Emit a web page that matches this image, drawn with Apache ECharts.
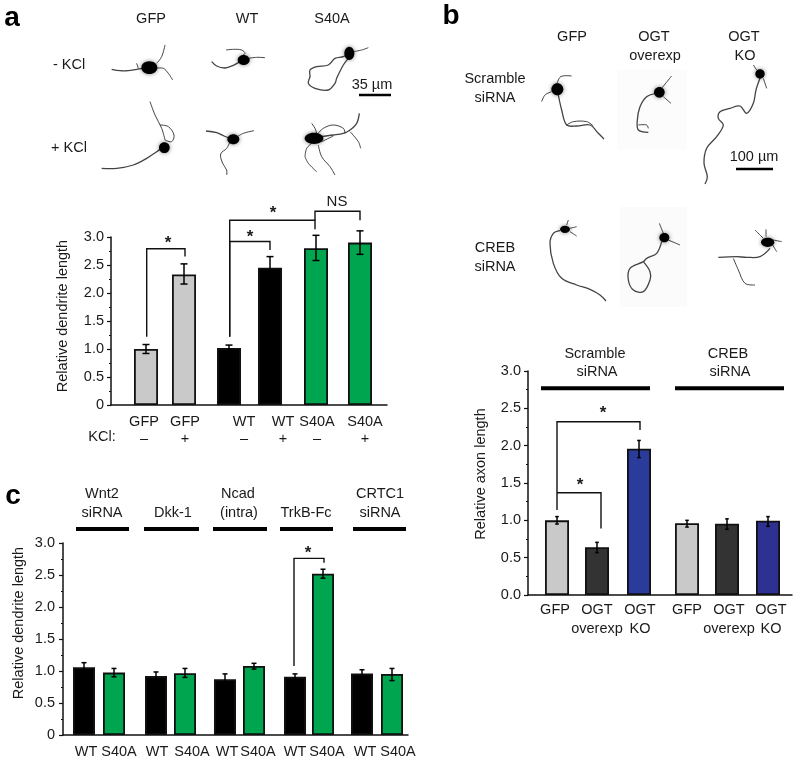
<!DOCTYPE html>
<html><head><meta charset="utf-8">
<style>html,body{margin:0;padding:0;background:#fff}#c{width:800px;height:760px}</style>
<script src="https://cdn.jsdelivr.net/npm/echarts@6/dist/echarts.min.js"></script>
</head><body><div id="c"></div>
<script>
// ---------- data ----------
const GRAY='#c9c9c9', BLACK='#000000', GREEN='#00a54f', DARK='#333333', BLUE='#2b3b9b', BLUE2='#2e3192';
// panel a
const aValues=[1.0,2.33,1.02,2.45,2.80,2.90];
const aLow=[0.92,2.16,0.98,2.25,2.58,2.69];
const aHigh=[1.08,2.52,1.07,2.65,3.03,3.11];
const aSlots=[35,73,118,159,205,249];
const aColors=[GRAY,GRAY,BLACK,BLACK,GREEN,GREEN];
const aTickPos=[33,74,133,172,206,254];
const aTickLabels=['GFP\n–','GFP\n+','WT\n–','WT\n+','S40A\n–','S40A\n+'];
const aBrackets=[[35.7,1.22,2.79,74,2.65],[118.7,1.22,2.92,159,2.77],[118.7,1.22,3.30,204,3.14],[204,3.30,3.46,249,3.30]];
const aNotes=[['*',57,2.88],['*',139,3.0],['*',162,3.43],['NS',226,3.63]];
// panel b
const bValues=[1.0,0.64,1.96,0.96,0.955,0.995];
const bLow=[0.95,0.567,1.84,0.91,0.88,0.92];
const bHigh=[1.05,0.705,2.07,1.0,1.02,1.05];
const bSlots=[29,69,111,159,199,240];
const bColors=[GRAY,DARK,BLUE,GRAY,DARK,BLUE2];
const bTickPos=[27,69,112,159,201,243];
const bTickLabels=['GFP','OGT\noverexp','OGT\nKO','GFP','OGT\noverexp','OGT\nKO'];
const bBrackets=[[29,1.14,2.32,112,2.21],[29,1.37,1.37,73,0.89]];
const bNotes=[['*',75,2.43],['*',52,1.47]];
const bHeaders=[[13,122,2.77],[147,256,2.77]];
// panel c
const cValues=[1.06,0.975,0.92,0.965,0.87,1.08,0.91,2.52,0.96,0.955];
const cLow=[1.0,0.91,0.85,0.90,0.80,1.03,0.86,2.45,0.91,0.85];
const cHigh=[1.13,1.04,0.985,1.04,0.955,1.12,0.955,2.59,1.02,1.04];
const cSlots=[21,51,93,122,162,191,232,260,299,329];
const cColors=[BLACK,GREEN,BLACK,GREEN,BLACK,GREEN,BLACK,GREEN,BLACK,GREEN];
const cTickPos=[23,56,94,129,164,195,232,264,302,335];
const cTickLabels=['WT','S40A','WT','S40A','WT','S40A','WT','S40A','WT','S40A'];
const cBrackets=[[231,1.08,2.76,261,2.69]];
const cNotes=[['*',245,2.84]];
const cHeaders=[[13,66,3.22],[81,136,3.22],[150,204,3.22],[217,270,3.22],[290,343,3.22]];

// ---------- text & micrographs ----------
const FONT='"Liberation Sans", Arial, sans-serif', INK='#1a1a1a';
const pageTexts=[
 ['GFP',151,19],['WT',247,19],['S40A',332,19],['- KCl',69,65],['+ KCl',69,148],['35 µm',372,85],
 ['KCl:',102,437],
 ['GFP',572,37],['OGT',654,37],['overexp',655,56],['OGT',744,37],['KO',745,56],
 ['Scramble',495,79],['siRNA',495,98],['CREB',495,248],['siRNA',495,267],['100 µm',754,157],
 ['Scramble',595,354],['siRNA',597,372],['CREB',728,354],['siRNA',730,372],
 ['Wnt2',102,494],['siRNA',102,513],['Dkk-1',173,513],['Ncad',238,494],['(intra)',239,513],
 ['TrkB-Fc',306,513],['CRTC1',380,494],['siRNA',380,513]];
const panelLetters=[['a',12,18],['b',451,16],['c',13,496]];
const scaleBars=[[359,391,95],[736,773,169]];
// neurons, traced on a 3x grid: soma [x,y,rx,ry], processes
const neuronsA=[
 {s:[448,203,24,19],p:[[335,208,360,212,385,212,410,208,430,205],[470,190,485,170,495,135],[468,205,490,205,505,220,518,240],[410,190,415,205]]},
 {s:[731,180,18,15],p:[[635,185,650,198,675,204,700,196,720,185],[722,170,735,160,725,150,700,148,678,150],[745,175,770,172,795,173]]},
 {s:[1048,160,15,20],p:[[1048,160,1030,170,1005,175,985,195,950,200,930,210,930,230,925,250,945,265,985,270,1005,250,1010,235,1030,195,1045,175],[1060,155,1085,150,1105,143]]},
 {s:[493,443,16,16],p:[[305,505,350,505,400,495,440,475,470,455,485,445],[450,305,465,345,485,385,495,420],[495,420,515,425,522,405,505,380,480,375]]},
 {s:[700,418,18,15],p:[[618,393,650,398,672,408,690,415],[690,425,680,445,662,462,668,490,680,510,680,525],[712,410,730,400,762,392]]},
 {s:[942,415,28,17],p:[[960,410,1000,405,1030,400,1050,390,1070,370,1078,340],[950,405,970,385,1000,375,1030,385,1035,400],[965,425,1000,408],[915,470,920,445,935,430],[915,470,925,490,950,515],[955,435,965,470,990,500,1005,525],[1050,395,1075,425,1082,445],[935,370,945,385,950,400]]}];
const neuronsB=[
 {s:[382,268,18,18],p:[[382,270,395,330,410,375,440,378,480,375,505,400,522,417],[410,375,430,365,470,365,490,378],[380,255,392,230,425,228],[365,275,345,285,335,305]]},
 {s:[688,277,16,16],p:[[680,280,650,290,630,320,622,360,625,390,655,397],[625,375,650,375,655,385],[695,265,715,240,725,228],[700,290,723,310]]},
 {s:[990,222,14,14],p:[[990,235,978,270,970,310,950,340,930,318,900,325,870,335,865,355,880,375,860,410,830,445,822,490,832,530,825,552],[1000,235,1010,265],[980,210,970,195]]},
 {s:[405,688,15,11],p:[[390,692,370,700,360,730,370,790,395,835,440,855,480,868,510,885,528,903],[410,675,415,660],[420,695,440,708],[420,685,440,680]]},
 {s:[703,713,15,14],p:[[695,725,680,760,650,775,640,785,600,805,595,840,610,870,640,875,660,840,660,815,640,785],[700,700,688,670],[715,720,750,735]]},
 {s:[1013,727,20,14],p:[[1020,745,990,770,950,772,920,770,865,772],[910,775,925,810,945,850,975,855],[1000,715,975,690],[1008,710,1008,688],[1030,720,1055,725],[1028,735,1040,755]]}];

function neuronGraphics(list,ox){
  const out=[];
  list.forEach(n=>{
    n.p.forEach((pts,k)=>{
      const points=[];for(let i=0;i<pts.length;i+=2)points.push([ox+pts[i]/3,pts[i+1]/3]);
      out.push({type:'polyline',silent:true,z:1,shape:{points,smooth:0.35},style:{stroke:'#222',lineWidth:k===0?1.3:1,fill:null,opacity:.85}});
    });
    out.push({type:'ellipse',silent:true,z:2,shape:{cx:ox+n.s[0]/3,cy:n.s[1]/3,rx:n.s[2]/3,ry:n.s[3]/3},style:{fill:'#000',shadowBlur:4,shadowColor:'rgba(0,0,0,.5)'}});
  });
  return out;
}
const graphics=[
 {type:'rect',silent:true,z:0,shape:{x:617,y:70,width:70,height:80},style:{fill:'#fcfcfc'}},
 {type:'rect',silent:true,z:0,shape:{x:620,y:207,width:67,height:100},style:{fill:'#fbfbfb'}},
 ...neuronGraphics(neuronsA,0),
 ...neuronGraphics(neuronsB,430),
 ...pageTexts.map(t=>({type:'text',silent:true,z:5,x:t[1],y:t[2],style:{text:t[0],font:'14.5px '+FONT,fill:INK,align:'center',verticalAlign:'middle'}})),
 ...panelLetters.map(t=>({type:'text',silent:true,z:5,x:t[1],y:t[2],style:{text:t[0],font:'bold 28px '+FONT,fill:'#000',align:'center',verticalAlign:'middle'}})),
 ...scaleBars.map(b=>({type:'line',silent:true,z:5,shape:{x1:b[0],y1:b[2],x2:b[1],y2:b[2]},style:{stroke:'#000',lineWidth:2.5}}))
];

// ---------- chart ----------
const grids=[
 {left:111,top:237,width:276,height:168},
 {left:528,top:371,width:264,height:224},
 {left:63,top:543,width:345,height:192}];
const yName=['Relative dendrite length','Relative axon length','Relative dendrite length'];
const yGap=[41,40,37];
const yNamePad=[10,18,32];
const yLabelMargin=[7,7,8];
const xLabelMargin=[8,5,8];
const zeroLabel=['0','0.0','0'];
const ticks=[aTickPos,bTickPos,cTickPos], tickLabels=[aTickLabels,bTickLabels,cTickLabels];
const xAxes=grids.map((g,i)=>({gridIndex:i,type:'value',min:0,max:g.width,splitLine:{show:false},
  axisLine:{onZero:false,lineStyle:{color:'#111',width:1.5}},axisTick:{show:false},
  axisLabel:{customValues:ticks[i],hideOverlap:false,color:INK,fontFamily:FONT,fontSize:14.5,lineHeight:i===1?19:17,margin:xLabelMargin[i],verticalAlign:'top',
    formatter:v=>tickLabels[i][ticks[i].indexOf(v)]}}));
const yAxes=grids.map((g,i)=>({gridIndex:i,type:'value',min:0,max:3,interval:0.5,splitLine:{show:false},
  name:yName[i],nameLocation:'middle',nameGap:yGap[i],nameTextStyle:{color:INK,fontFamily:FONT,fontSize:14.5,padding:[0,0,0,yNamePad[i]]},
  axisLine:{show:true,onZero:false,lineStyle:{color:'#111',width:1.5}},
  axisTick:{show:true,length:4,lineStyle:{color:'#111',width:1.2}},
  minorTick:{show:true,splitNumber:2,length:2,lineStyle:{color:'#111',width:1}},
  axisLabel:{color:INK,fontFamily:FONT,fontSize:14.5,margin:yLabelMargin[i],formatter:v=>v===0?zeroLabel[i]:v.toFixed(1)}}));

function barSeries(i,slots,values,colors,bw){
  return {type:'bar',xAxisIndex:i,yAxisIndex:i,barWidth:bw,silent:true,z:2,
    data:slots.map((x,k)=>({value:[x,values[k]],itemStyle:{color:colors[k],borderColor:'#111',borderWidth:1.8}}))};
}
function errSeries(i,slots,low,high,cap){
  return {type:'custom',xAxisIndex:i,yAxisIndex:i,silent:true,z:3,clip:false,
    encode:{x:0,y:[1,2]},data:slots.map((x,k)=>[x,low[k],high[k]]),
    renderItem(p,api){
      const a=api.coord([api.value(0),api.value(1)]),b=api.coord([api.value(0),api.value(2)]);
      const st={stroke:'#000',lineWidth:1.5};
      return {type:'group',children:[
        {type:'line',shape:{x1:a[0],y1:a[1],x2:b[0],y2:b[1]},style:st},
        {type:'line',shape:{x1:a[0]-cap,y1:a[1],x2:a[0]+cap,y2:a[1]},style:st},
        {type:'line',shape:{x1:b[0]-cap,y1:b[1],x2:b[0]+cap,y2:b[1]},style:st}]};
    }};
}
function bracketSeries(i,list){
  return {type:'custom',xAxisIndex:i,yAxisIndex:i,silent:true,z:4,clip:false,encode:{x:[0,3],y:[1,2,4]},data:list,
    renderItem(p,api){
      const x0=api.value(0),y0=api.value(1),t=api.value(2),x1=api.value(3),y1=api.value(4);
      return {type:'polyline',shape:{points:[api.coord([x0,y0]),api.coord([x0,t]),api.coord([x1,t]),api.coord([x1,y1])]},style:{stroke:'#111',lineWidth:1.4,fill:null}};
    }};
}
function noteSeries(i,list){
  return {type:'custom',xAxisIndex:i,yAxisIndex:i,silent:true,z:4,clip:false,encode:{x:0,y:1},data:list.map(n=>[n[1],n[2]]),
    renderItem(p,api){
      const c=api.coord([api.value(0),api.value(1)]),txt=list[p.dataIndex][0];
      return {type:'text',x:c[0],y:c[1],style:{text:txt,font:(txt==='*'?'bold 17px ':'15px ')+FONT,fill:INK,align:'center',verticalAlign:'middle'}};
    }};
}
function headerSeries(i,list){
  return {type:'custom',xAxisIndex:i,yAxisIndex:i,silent:true,z:4,clip:false,encode:{x:[0,1],y:2},data:list,
    renderItem(p,api){
      const a=api.coord([api.value(0),api.value(2)]),b=api.coord([api.value(1),api.value(2)]);
      return {type:'line',shape:{x1:a[0],y1:a[1],x2:b[0],y2:b[1]},style:{stroke:'#000',lineWidth:4}};
    }};
}
const chart=echarts.init(document.getElementById('c'),null,{renderer:'canvas'});
chart.setOption({animation:false,backgroundColor:'#fff',grid:grids,xAxis:xAxes,yAxis:yAxes,graphic:graphics,
 series:[
  barSeries(0,aSlots,aValues,aColors,24),errSeries(0,aSlots,aLow,aHigh,3.5),bracketSeries(0,aBrackets),noteSeries(0,aNotes),
  barSeries(1,bSlots,bValues,bColors,24),errSeries(1,bSlots,bLow,bHigh,1.8),bracketSeries(1,bBrackets),noteSeries(1,bNotes),headerSeries(1,bHeaders),
  barSeries(2,cSlots,cValues,cColors,22),errSeries(2,cSlots,cLow,cHigh,2.5),bracketSeries(2,cBrackets),noteSeries(2,cNotes),headerSeries(2,cHeaders)
 ]});
</script></body></html>
